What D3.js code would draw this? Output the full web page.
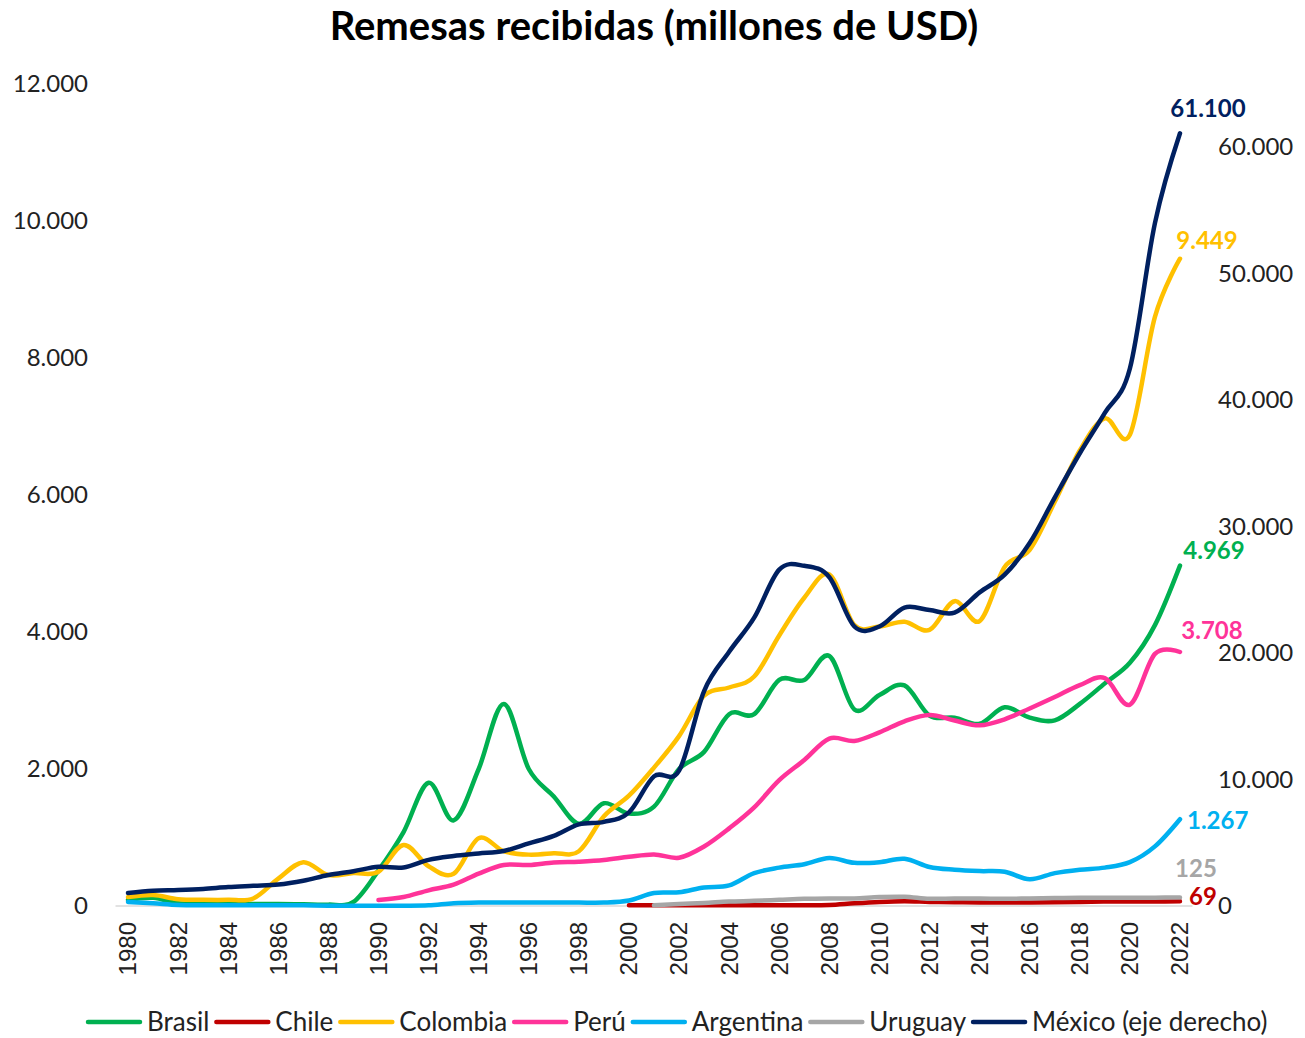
<!DOCTYPE html>
<html>
<head>
<meta charset="utf-8">
<script src="https://cdn.jsdelivr.net/npm/d3@7"></script>
<style>
  body { margin: 0; background: #fff; }
  text { font-family: Lato, "Open Sans", sans-serif; }
</style>
</head>
<body>
<div id="chart"></div>
<script>
var svgWidth = 1305;
var svgHeight = 1038;

// categories
var years = d3.range(1980, 2023);

// series values (millions USD), null = no data
var brasil = [90,120,40,30,25,30,30,25,20,60, 520,1080,1800,1250,2000,2950,2000,1600,1200,1500,
  1350,1450,2000,2250,2800,2800,3300,3300,3650,2870, 3080,3220,2780,2750,2660,2900,2750,2710,2950,3250,
  3550,4100,4969];
var chile = [null,null,null,null,null,null,null,null,null,null, null,null,null,null,null,null,null,null,null,null,
  10,10,10,10,10,10,10,10,15,40, 60,70,60,55,50,50,50,55,60,65, 65,65,69];
var colombia = [130,160,100,90,90,110,400,640,450,480, 500,890,580,470,990,800,750,770,800,1310,
  1610,2020,2480,3070,3190,3350,3950,4500,4840,4100, 4080,4150,4030,4450,4160,4950,5200,5900,6650,7120,
  6880,8600,9449];
var peru = [null,null,null,null,null,null,null,null,null,null,
  87,131,229,311,473,599,599,636,647,670, 718,753,705,869,1133,1440,1837,2131,2444,2409,
  2534,2697,2788,2707,2637,2725,2884,3051,3225,3326, 2939,3680,3708];
var argentina = [60,40,15,10,10,10,10,10,5,5, 5,5,10,40,50,50,50,50,50,50,
  80,190,200,270,300,480,560,610,700,630, 640,690,570,530,510,500,390,480,530,560,
  640,870,1267];
var uruguay = [null,null,null,null,null,null,null,null,null,null, null,null,null,null,null,null,null,null,null,null,
  null,10,30,45,65,75,90,105,110,110, 130,135,105,110,110,105,110,115,120,120, 120,122,125];
var mexico = [1030,1200,1260,1350,1500,1600,1700,2000,2450,2750, 3100,3050,3650,3950,4150,4350,4950,5550,6450,6650,
  7400,10250,10700,17000,20100,22800,26600,26900,26000,22100, 22100,23600,23400,23200,24800,26200,28700,32300,35800,39000,
  42500,54000,61100];

// tick labels
var leftTicks = [0, 2000, 4000, 6000, 8000, 10000, 12000];
var rightTicks = [0, 10000, 20000, 30000, 40000, 50000, 60000];
var xTickYears = years.filter(function(y) { return y % 2 === 0; });

var series = [
  { name: "Brasil", values: brasil, color: "#00b050", axis: "left" },
  { name: "Chile", values: chile, color: "#c00000", axis: "left" },
  { name: "Colombia", values: colombia, color: "#ffc000", axis: "left" },
  { name: "Perú", values: peru, color: "#ff3399", axis: "left" },
  { name: "Argentina", values: argentina, color: "#00b0f0", axis: "left" },
  { name: "Uruguay", values: uruguay, color: "#a6a6a6", axis: "left" },
  { name: "México (eje derecho)", values: mexico, color: "#002060", axis: "right" }
];

// where each end label sits relative to the last point
var labelPos = {
  "Brasil": { dx: 34, dy: -15, anchor: "middle" },
  "Chile": { dx: 9, dy: -5, anchor: "start" },
  "Colombia": { dx: 27, dy: -18, anchor: "middle" },
  "Perú": { dx: 32, dy: -21, anchor: "middle" },
  "Argentina": { dx: 7, dy: 1, anchor: "start" },
  "Uruguay": { dx: 16, dy: -29, anchor: "middle" },
  "México (eje derecho)": { dx: 28, dy: -25, anchor: "middle" }
};

var esLocale = d3.formatLocale({ decimal: ",", thousands: ".", grouping: [3], currency: ["$", ""] });
var fmt = esLocale.format(",d");

var plot = { left: 115.5, right: 1192.5, top: 84, bottom: 906 };

var svg = d3.select("#chart").append("svg")
  .attr("width", svgWidth)
  .attr("height", svgHeight);

var x = d3.scalePoint()
  .domain(years)
  .range([plot.left, plot.right])
  .padding(0.5);

var yLeft = d3.scaleLinear().domain([0, 12000]).range([plot.bottom, plot.top]);
var yRight = d3.scaleLinear().domain([0, 65000]).range([plot.bottom, plot.top]);

// title
svg.append("text")
  .attr("x", (plot.left + plot.right) / 2)
  .attr("y", 40)
  .attr("text-anchor", "middle")
  .attr("font-size", "40px")
  .attr("font-weight", "bold")
  .attr("fill", "#000")
  .text("Remesas recibidas (millones de USD)");

// left axis
var leftAxis = svg.append("g")
  .attr("transform", "translate(96,0)")
  .call(d3.axisLeft(yLeft).tickValues(leftTicks).tickFormat(fmt).tickSize(0).tickPadding(8));
leftAxis.select(".domain").remove();
leftAxis.selectAll("text").attr("font-size", "24px").attr("fill", "#222").style("font-family", "Lato, sans-serif");

// right axis
var rightAxis = svg.append("g")
  .attr("transform", "translate(1210,0)")
  .call(d3.axisRight(yRight).tickValues(rightTicks).tickFormat(fmt).tickSize(0).tickPadding(8));
rightAxis.select(".domain").remove();
rightAxis.selectAll("text").attr("font-size", "24px").attr("fill", "#222").style("font-family", "Lato, sans-serif");

// x axis line
svg.append("line")
  .attr("x1", plot.left).attr("x2", plot.right)
  .attr("y1", plot.bottom).attr("y2", plot.bottom)
  .attr("stroke", "#d9d9d9")
  .attr("stroke-width", 1.5);

// x tick labels, rotated
svg.append("g").selectAll("text")
  .data(xTickYears)
  .enter().append("text")
  .attr("transform", function(d) { return "translate(" + x(d) + ",922) rotate(-90)"; })
  .attr("text-anchor", "end")
  .attr("dy", "0.35em")
  .attr("font-size", "24px")
  .attr("fill", "#222")
  .style("font-family", "'Liberation Sans', Arial, sans-serif")
  .text(function(d) { return d; });

// lines
series.forEach(function(s) {
  var yScale = s.axis === "right" ? yRight : yLeft;
  var pts = years.map(function(yr, i) { return { year: yr, v: s.values[i] }; });
  var line = d3.line()
    .defined(function(d) { return d.v != null; })
    .x(function(d) { return x(d.year); })
    .y(function(d) { return yScale(d.v); })
    .curve(d3.curveCardinal.tension(0));

  svg.append("path")
    .datum(pts)
    .attr("fill", "none")
    .attr("stroke", s.color)
    .attr("stroke-width", 4.5)
    .attr("stroke-linecap", "round")
    .attr("stroke-linejoin", "round")
    .attr("d", line);
});

// end labels
series.forEach(function(s) {
  var yScale = s.axis === "right" ? yRight : yLeft;
  var last = years.length - 1;
  var p = labelPos[s.name];
  svg.append("text")
    .attr("x", x(years[last]) + p.dx)
    .attr("y", yScale(s.values[last]) + p.dy)
    .attr("dy", "0.35em")
    .attr("text-anchor", p.anchor)
    .attr("font-size", "24px")
    .attr("font-weight", "bold")
    .attr("fill", s.color)
    .text(fmt(s.values[last]));
});

// legend
var legend = svg.append("g").attr("transform", "translate(0,1022)");
var lx = 88;
series.forEach(function(s) {
  legend.append("line")
    .attr("x1", lx).attr("x2", lx + 52)
    .attr("y1", 0).attr("y2", 0)
    .attr("stroke", s.color)
    .attr("stroke-width", 4.5)
    .attr("stroke-linecap", "round");
  var t = legend.append("text")
    .attr("x", lx + 59)
    .attr("y", 0)
    .attr("dy", "0.35em")
    .attr("font-size", "26px")
    .attr("fill", "#222")
    .text(s.name);
  lx = lx + 59 + t.node().getComputedTextLength() + 7;
});
</script>
</body>
</html>
